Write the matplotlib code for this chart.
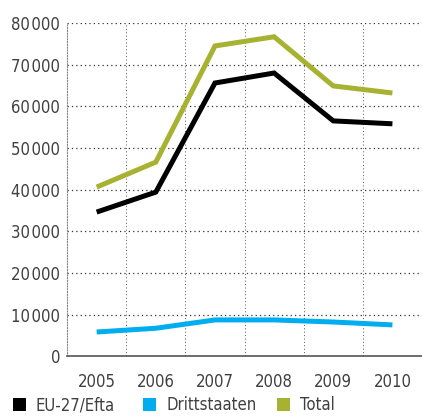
import matplotlib
matplotlib.use("Agg")
import matplotlib.pyplot as plt
from matplotlib.patches import Rectangle
from matplotlib.ticker import FuncFormatter

years = ["2005", "2006", "2007", "2008", "2009", "2010"]
eu_efta = [34600, 39400, 65600, 68000, 56500, 55800]
drittstaaten = [5800, 6700, 8700, 8700, 8200, 7500]
total = [40600, 46600, 74500, 76700, 64900, 63200]
series_names = ["EU-27/Efta", "Drittstaaten", "Total"]
colors = ["#000000", "#00AEEF", "#A8B232"]

plt.rcParams['font.family'] = ['DejaVu Sans']
plt.rcParams['font.stretch'] = 'condensed'

fig = plt.figure(figsize=(4.22, 4.19), dpi=100)
ax = fig.add_axes([0.159, 0.150, 0.841, 0.795])

x = list(range(len(years)))
for vals, c in zip([eu_efta, drittstaaten, total], colors):
    ax.plot(x, vals, color=c, lw=3.6, solid_joinstyle='miter', solid_capstyle='butt')

ax.set_xlim(-0.5, len(years) - 0.5)
ax.set_ylim(0, 80000)
ax.set_yticks(range(0, 80001, 10000))
ax.yaxis.set_major_formatter(FuncFormatter(
    lambda v, p: "0" if v == 0 else f"{int(v):,}".replace(",", "\u200a")))
ax.set_xticks(x)
ax.set_xticklabels(years)
ax.set_xticks([i + 0.5 for i in x[:-1]], minor=True)

ax.grid(axis='y', which='major', linestyle=(0, (1, 2.5)), color='#333333', lw=0.9)
ax.grid(axis='x', which='minor', linestyle=(0, (1, 2.5)), color='#555555', lw=0.7)
ax.set_axisbelow(True)

for s in ['top', 'right']:
    ax.spines[s].set_visible(False)
ax.spines['left'].set_linestyle((0, (1, 1.5)))
ax.spines['left'].set_color('#888888')
ax.spines['left'].set_linewidth(0.8)
ax.spines['bottom'].set_color('#555555')
ax.spines['bottom'].set_linewidth(1.2)

ax.tick_params(axis='both', which='both', length=0, labelsize=12, colors='#404040')
ax.tick_params(axis='x', pad=12)
ax.tick_params(axis='y', pad=5)

leg_x = [0.031, 0.340, 0.657]
for lx, name, c in zip(leg_x, series_names, colors):
    fig.patches.append(Rectangle((lx, 0.019), 0.03, 0.031, transform=fig.transFigure,
                                 facecolor=c, edgecolor='none'))
    fig.text(lx + 0.054, 0.033, name, fontsize=12, color='#404040', va='center', ha='left')

fig.savefig("out.png", dpi=100)
